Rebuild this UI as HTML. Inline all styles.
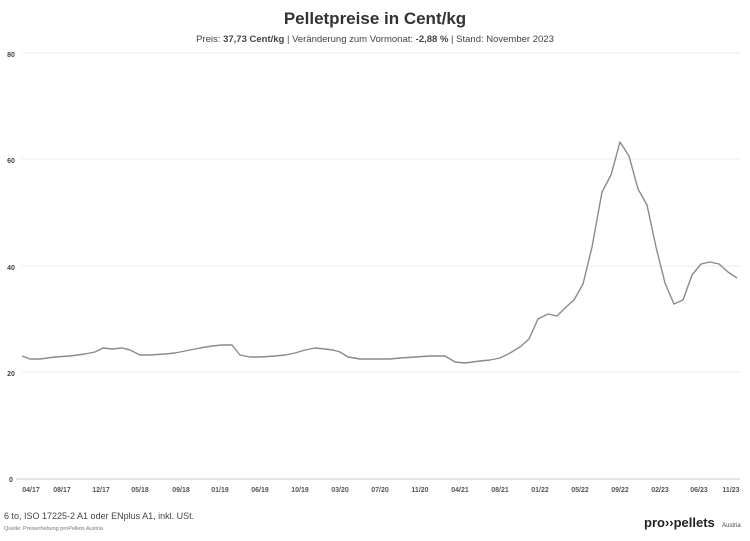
<!DOCTYPE html>
<html><head><meta charset="utf-8"><style>
body{margin:0;background:#fff;width:750px;height:536px;overflow:hidden;font-family:"Liberation Sans",sans-serif}
</style></head><body>
<svg width="750" height="536" xmlns="http://www.w3.org/2000/svg" font-family="Liberation Sans, sans-serif">
<text x="375" y="24" text-anchor="middle" font-size="17" font-weight="bold" fill="#333">Pelletpreise in Cent/kg</text>
<text x="375" y="42" text-anchor="middle" font-size="9.5" fill="#444">Preis: <tspan font-weight="bold">37,73  Cent/kg</tspan> | Veränderung zum Vormonat:  <tspan font-weight="bold">-2,88 %</tspan> | Stand: November 2023</text>
<g stroke="#eee" stroke-width="1">
<line x1="22" x2="740" y1="53" y2="53"/><line x1="22" x2="740" y1="159" y2="159"/>
<line x1="22" x2="740" y1="266" y2="266"/><line x1="22" x2="740" y1="372" y2="372"/>
</g>
<line x1="16" x2="740" y1="479" y2="479" stroke="#ccc"/>
<g font-size="7" font-weight="bold" fill="#444" text-anchor="middle">
<text x="11" y="57">80</text><text x="11" y="163">60</text><text x="11" y="270">40</text><text x="11" y="376">20</text><text x="11" y="482">0</text>
</g>
<g font-size="7" font-weight="bold" fill="#555" text-anchor="middle">
<text x="31" y="492">04/17</text><text x="62" y="492">08/17</text><text x="101" y="492">12/17</text><text x="140" y="492">05/18</text><text x="181" y="492">09/18</text><text x="220" y="492">01/19</text><text x="260" y="492">06/19</text><text x="300" y="492">10/19</text><text x="340" y="492">03/20</text><text x="380" y="492">07/20</text><text x="420" y="492">11/20</text><text x="460" y="492">04/21</text><text x="500" y="492">08/21</text><text x="540" y="492">01/22</text><text x="580" y="492">05/22</text><text x="620" y="492">09/22</text><text x="660" y="492">02/23</text><text x="699" y="492">06/23</text><text x="731" y="492">11/23</text>
</g>
<polyline fill="none" stroke="#8a8a8a" stroke-width="1.4" stroke-linejoin="round" points="22,356 30,359 40,359 55,357 70,356 85,354 95,352 103,348 112,349 122,348 130,350 140,355 150,355 165,354 175,353 185,351 200,348 212,346 222,345 232,345 240,355 250,357 260,357 275,356 285,355 295,353 305,350 315,348 325,349 333,350 340,352 348,357 360,359 375,359 390,359 400,358 415,357 430,356 445,356 455,362 465,363 480,361 490,360 500,358 510,353 520,347 529,339 538,319 548,314 557,316 566,307 574,300 583,284 592,247 602,192 611,175 620,142 629,156 638,189 647,205 656,247 665,283 674,304 683,300 692,275 701,264 710,262 719,264 728,272 737,278"/>
<text x="4" y="519" font-size="9" fill="#444">6 to, ISO 17225-2 A1 oder ENplus A1, inkl. USt.</text>
<text x="4" y="530" font-size="5.5" fill="#777">Quelle: Preiserhebung proPellets Austria</text>
<text x="644" y="527" font-size="13" font-weight="bold" fill="#222">pro››pellets</text>
<text x="722" y="527" font-size="6" fill="#444">Austria</text>
</svg>
</body></html>
